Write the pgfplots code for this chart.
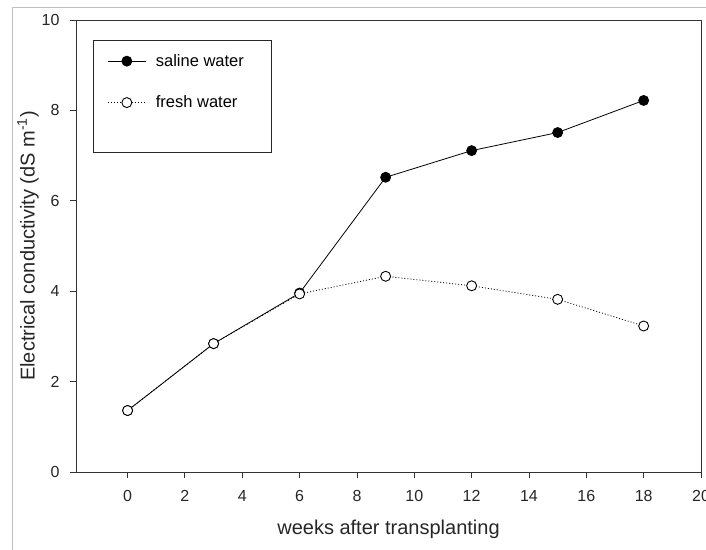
\documentclass[border=0pt]{standalone}
\usepackage{fontspec}
\setmainfont{Liberation Sans}
\usepackage{pgfplots}
\pgfplotsset{compat=1.18}
\begin{document}
\begin{tikzpicture}
\begin{axis}[
  name=ax,
  scale only axis, width=625pt, height=452pt,
  xmin=-1.8, xmax=20, ymin=0, ymax=10,
  xtick={0,2,...,20}, ytick={0,2,...,10},
  tick pos=left, tick align=outside,
  major tick length=6pt,
  axis line style={line width=0.9pt, black!80},
  tick style={line width=0.9pt, black!80},
  /pgf/number format/assume math mode=true,
  ticklabel style={font=\fontsize{16}{19}\selectfont, text=black!85},
  xticklabel style={yshift=-9pt},
  yticklabel style={xshift=-7pt},
  xlabel={weeks after transplanting},
  ylabel={Electrical conductivity (dS m\textsuperscript{-1})},
  label style={font=\fontsize{20}{24}\selectfont, text=black!85},
  xlabel style={at={(axis description cs:0.5,-0.126)}, anchor=center},
  ylabel style={at={(axis description cs:-0.0768,0.5)}, anchor=center},
  legend cell align=left,
  legend image code/.code={\draw[mark repeat=2,mark phase=2,#1] plot coordinates {(0pt,0pt)(19pt,0pt)(38pt,0pt)};\path[draw=none,fill=none] (46pt,0pt);},
  legend style={at={(axis description cs:0.0272,0.9558)}, anchor=north west,
    draw=black!85, line width=0.9pt, inner xsep=14pt, inner ysep=12pt,
    row sep=24pt, font=\fontsize{16.5}{20}\selectfont},
]
\addplot[black, line width=0.8pt, mark=*, mark size=5pt, mark options={solid, fill=black}]
  coordinates {(0,1.36) (3,2.84) (6,3.96) (9,6.52) (12,7.11) (15,7.51) (18,8.22)};
\addlegendentry{saline water\hspace*{12pt}}
\addplot[black, line width=0.8pt, dash pattern=on 1pt off 2pt, mark=*, mark size=5pt, mark options={solid, fill=white, line width=0.9pt}]
  coordinates {(0,1.36) (3,2.84) (6,3.94) (9,4.33) (12,4.12) (15,3.82) (18,3.23)};
\addlegendentry{fresh water}
\addlegendimage{empty legend}
\addlegendentry{}
\draw[line width=0.9pt, black!80] (axis cs:-2,0) -- (axis cs:-1.8,0);
\end{axis}
\pgfresetboundingbox
\path[use as bounding box] ([xshift=-76pt,yshift=-78pt]ax.south west) rectangle ([xshift=5pt,yshift=20pt]ax.north east);
\draw[gray!50, line width=0.8pt] ([xshift=-64pt,yshift=-80pt]ax.south west) -- ([xshift=-64pt,yshift=13pt]ax.north west) -- ([xshift=10pt,yshift=13pt]ax.north east);
\end{tikzpicture}
\end{document}
